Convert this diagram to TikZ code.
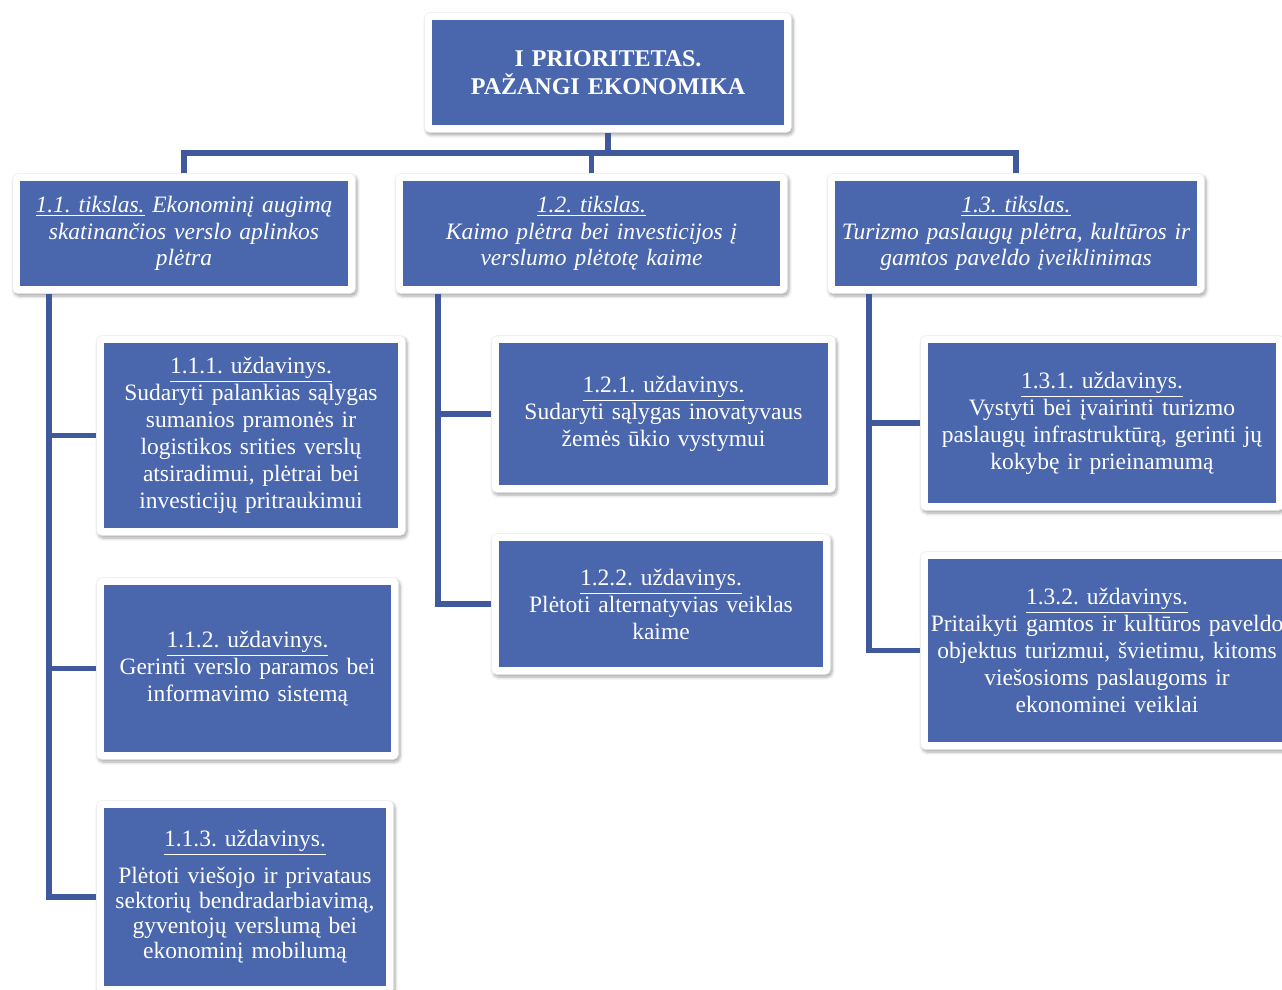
\documentclass[tikz,border=0pt]{standalone}
\usepackage{fontspec}
\setmainfont{Liberation Serif}
\frenchspacing
\usetikzlibrary{fit,backgrounds,shadows.blur}
\definecolor{boxblue}{HTML}{4A66AC}
\definecolor{linec}{HTML}{40589C}
\tikzset{
  box/.style={fill=boxblue, text=white, align=center, inner sep=0pt,
    font=\fontsize{11.75}{13.5}\selectfont},
  goal/.style={box, font=\fontsize{11.75}{13.2}\selectfont\itshape},
  frame/.style={fill=white, draw=black!7, line width=0.3pt, rounded corners=2.5pt,
    inner sep=3.5pt,
    blur shadow={shadow xshift=0.8pt, shadow yshift=-1.3pt, shadow blur steps=6,
      shadow blur radius=1.6pt, shadow opacity=35}},
  conn/.style={draw=linec, line width=2.8pt, line join=miter}
}
\begin{document}
\begin{tikzpicture}[x=0.5pt,y=-0.5pt]
\useasboundingbox (0,0) rectangle (1282,990);
\clip (0,0) rectangle (1282,990);
% top
\node[box, font=\fontsize{12}{14}\selectfont\bfseries, minimum width=176pt, minimum height=52.5pt, text width=172pt]
  (top) at (608,72.5) {I PRIORITETAS.\\PAŽANGI EKONOMIKA};
% goals
\node[goal, minimum width=164pt, minimum height=52.5pt, text width=162pt] (t11) at (184,233.5)
  {\underline{1.1. tikslas.} Ekonominį augimą\\skatinančios verslo aplinkos\\plėtra};
\node[goal, minimum width=188.5pt, minimum height=52.5pt, text width=186pt] (t12) at (591.5,233.5)
  {\underline{1.2. tikslas.}\\Kaimo plėtra bei investicijos į\\verslumo plėtotę kaime};
\node[goal, minimum width=181pt, minimum height=52.5pt, text width=180pt] (t13) at (1016,233.5)
  {\underline{1.3. tikslas.}\\Turizmo paslaugų plėtra, kultūros ir\\gamtos paveldo įveiklinimas};
% tasks
\node[box, minimum width=147pt, minimum height=92.5pt, text width=145pt] (u111) at (251,435.5)
  {\underline{1.1.1. uždavinys.}\\Sudaryti palankias sąlygas\\sumanios pramonės ir\\logistikos srities verslų\\atsiradimui, plėtrai bei\\investicijų pritraukimui};
\node[box, minimum width=143.5pt, minimum height=83.5pt, text width=141pt] (u112) at (247.5,668.5)
  {\underline{1.1.2. uždavinys.}\\Gerinti verslo paramos bei\\informavimo sistemą};
\node[box, font=\fontsize{11.75}{12.6}\selectfont, minimum width=141pt, minimum height=89pt, text width=139pt] (u113) at (245,897)
  {\underline{1.1.3. uždavinys.}\\[4.5pt]Plėtoti viešojo ir privataus\\sektorių bendradarbiavimą,\\gyventojų verslumą bei\\ekonominį mobilumą};
\node[box, minimum width=164.5pt, minimum height=71pt, text width=162pt] (u121) at (663.5,414)
  {\underline{1.2.1. uždavinys.}\\Sudaryti sąlygas inovatyvaus\\žemės ūkio vystymui};
\node[box, minimum width=162pt, minimum height=63pt, text width=160pt] (u122) at (661,604)
  {\underline{1.2.2. uždavinys.}\\Plėtoti alternatyvias veiklas\\kaime};
\node[box, minimum width=174pt, minimum height=80pt, text width=172pt] (u131) at (1102,423)
  {\underline{1.3.1. uždavinys.}\\Vystyti bei įvairinti turizmo\\paslaugų infrastruktūrą, gerinti jų\\kokybę ir prieinamumą};
\node[box, minimum width=179pt, minimum height=91.5pt, text width=178pt] (u132) at (1107,650.5)
  {\underline{1.3.2. uždavinys.}\\Pritaikyti gamtos ir kultūros paveldo\\objektus turizmui, švietimu, kitoms\\viešosioms paslaugoms ir\\ekonominei veiklai};
% frames
\begin{scope}[on background layer]
\foreach \n in {top,t11,t12,t13,u111,u112,u113,u121,u122,u131,u132}
  \node[frame, fit=(\n)] (f\n) {};
\end{scope}
% connectors
\coordinate (bus) at (0,153);
\coordinate (l1) at (49,0);
\coordinate (l2) at (438,0);
\coordinate (l3) at (869,0);
\draw[conn] (ftop.south) -- (ftop.south |- bus);
\draw[conn] (ft11.north) -- (ft11.north |- bus) -- (ft13.north |- bus) -- (ft13.north);
\draw[conn] (ft12.north) -- (ft12.north |- bus);
\draw[conn] (ft11.south -| l1) |- (fu113.west);
\draw[conn] (l1 |- fu111.west) -- (fu111.west);
\draw[conn] (l1 |- fu112.west) -- (fu112.west);
\draw[conn] (ft12.south -| l2) |- (fu122.west);
\draw[conn] (l2 |- fu121.west) -- (fu121.west);
\draw[conn] (ft13.south -| l3) |- (fu132.west);
\draw[conn] (l3 |- fu131.west) -- (fu131.west);
\end{tikzpicture}
\end{document}
